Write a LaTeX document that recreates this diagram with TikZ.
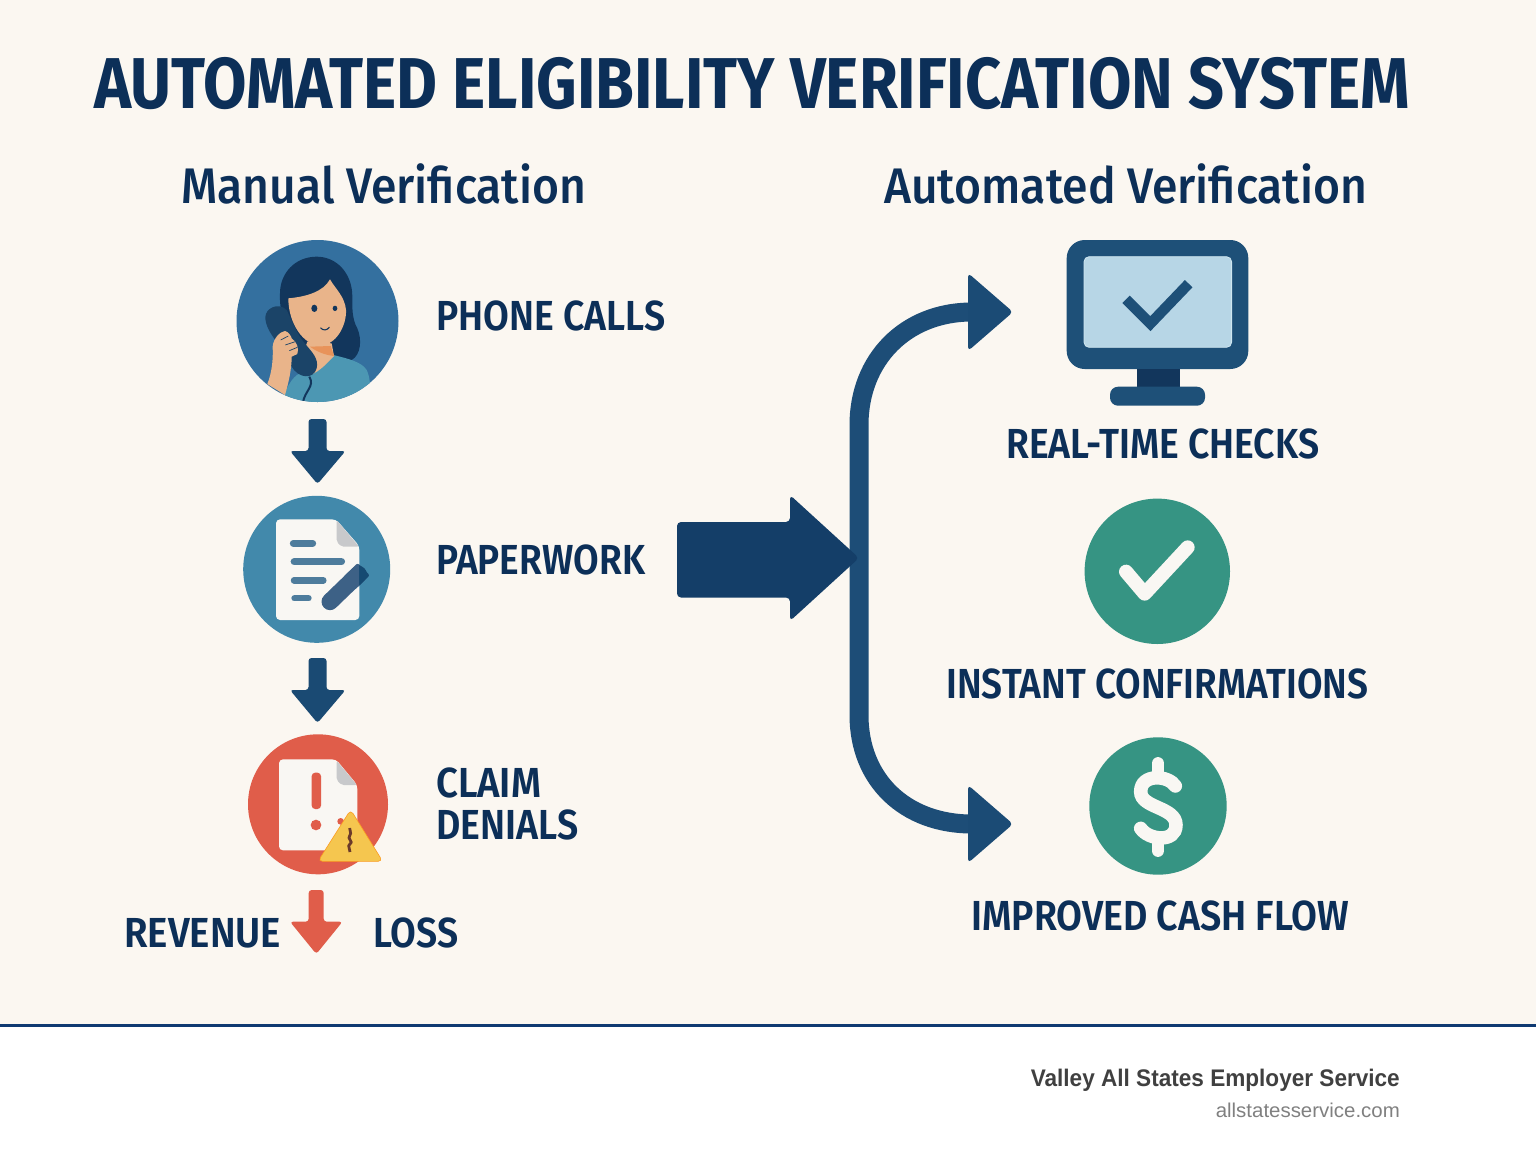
\documentclass[tikz,border=0pt]{standalone}
\usepackage{fontspec}
\usepackage{graphicx}
\setmainfont{Fira Sans}
\newfontfamily\fhead{Fira Sans Medium}
\newfontfamily\flab{Fira Sans SemiBold}
\newfontfamily\ftitle{Fira Sans Bold}
\newfontfamily\ffoot{Liberation Sans}
\definecolor{paperbg}{HTML}{FBF7F1}
\definecolor{navytext}{HTML}{0C2F58}
\definecolor{rulenavy}{HTML}{0F3A72}
\definecolor{blueA}{HTML}{34709F}
\definecolor{blueB}{HTML}{4289AB}
\definecolor{redA}{HTML}{E05D4A}
\definecolor{greenA}{HTML}{369483}
\definecolor{arrowdark}{HTML}{1A4A73}
\definecolor{arrowbig}{HTML}{143E68}
\definecolor{branchblue}{HTML}{1D4D77}
\definecolor{monitorblue}{HTML}{1E5078}
\definecolor{hairnavy}{HTML}{12365C}
\definecolor{handset}{HTML}{1B4468}
\definecolor{skin}{HTML}{E9B48A}
\definecolor{neckshade}{HTML}{E8935A}
\definecolor{tealshirt}{HTML}{4C97B3}
\definecolor{sheet}{HTML}{F9F7F3}
\definecolor{foldgray}{HTML}{C8C9CB}
\definecolor{doclines}{HTML}{4E7C9C}
\definecolor{penmid}{HTML}{3D6186}
\definecolor{pentip}{HTML}{154A72}
\definecolor{warn}{HTML}{F5C64F}
\definecolor{crack}{HTML}{6B3A2A}
\definecolor{screenblue}{HTML}{B7D6E6}
\definecolor{screenedge}{HTML}{CFE6F0}
\newcommand{\lbl}[6]{\node[anchor=base west,inner sep=0pt,text=navytext] (#1) at (#2,#3) {\resizebox{#4pt}{\height}{#5#6}};}
\newcommand{\labf}{\fontsize{42}{42}\flab}
\newcommand{\penshape}{
  \draw[line width=17pt,line cap=round] (300,350) -- (385,268);
  \fill[rounded corners=2pt] (383,234) -- (419,271) -- (374,315) -- (338,278) -- cycle;
}
\begin{document}
\begin{tikzpicture}[x=1pt,y=-1pt,
  disc/.style={circle,inner sep=0pt,draw=none},
  blockfill/.style={line join=round,rounded corners=3pt},
  docline/.style={line width=#1,line cap=round,draw=doclines},
  docline/.default=7pt]
\useasboundingbox (0,0) rectangle (1536,1154);
\fill[paperbg] (0,0) rectangle (1536,1025);
\fill[white] (0,1025) rectangle (1536,1154);
\coordinate (ruleL) at (0,1025.5);
\coordinate (ruleR) at (1536,1025.5);
\draw[rulenavy,line width=3pt] (ruleL) -- (ruleR);

% titles
\lbl{title}{94}{108}{1316}{\fontsize{72}{72}\ftitle}{AUTOMATED ELIGIBILITY VERIFICATION SYSTEM}
\lbl{manual}{181}{203}{405}{\fontsize{50}{50}\fhead}{Manual Verification}
\lbl{auto}{884}{203}{483}{\fontsize{50}{50}\fhead}{Automated Verification}
% labels
\lbl{lphone}{436}{330}{229}{\labf}{PHONE CALLS}
\lbl{lpaper}{436}{574}{209}{\labf}{PAPERWORK}
\lbl{lclaim}{436}{797}{105}{\labf}{CLAIM}
\lbl{ldenial}{436}{839}{142}{\labf}{DENIALS}
\lbl{lrev}{124}{947}{157}{\labf}{REVENUE}
\lbl{lloss}{373}{947}{85}{\labf}{LOSS}
\lbl{lreal}{1006}{458}{313}{\labf}{REAL-TIME CHECKS}
\lbl{linst}{946}{698}{422}{\labf}{INSTANT CONFIRMATIONS}
\lbl{lcash}{971}{930}{378}{\labf}{IMPROVED CASH FLOW}
% footer
\node[anchor=base east,inner sep=0pt,text=black!75] (fa) at (1400,1086) {\resizebox{369pt}{\height}{\fontsize{24}{24}\ffoot\bfseries Valley All States Employer Service}};
\node[anchor=base east,inner sep=0pt,text=black!50] (fb) at (1400,1117) {\resizebox{184pt}{\height}{\fontsize{20}{20}\ffoot allstatesservice.com}};

% ---- phone circle
\node[disc,fill=blueA,minimum size=162pt] (phone) at (317.5,321) {};
\begin{scope}
\clip (317.5,321) circle (81);
\begin{scope}[shift={(220,230)},scale=1/3]
 % hair back
 \fill[hairnavy] (290,80) .. controls (225,80) and (180,130) .. (180,190) .. controls (178,240) and (190,280) .. (215,320) -- (300,390) -- (395,390) .. controls (422,375) and (427,330) .. (412,295) .. controls (395,265) and (397,230) .. (397,200) .. controls (397,130) and (350,80) .. (290,80) -- cycle;
 % shirt
 \fill[tealshirt] (185,520) .. controls (195,480) and (215,440) .. (240,430) -- (290,420) -- (340,375) .. controls (380,385) and (425,395) .. (440,420) .. controls (450,440) and (452,470) .. (452,520) -- cycle;
 % neck
 \fill[skin] (262,335) -- (335,340) -- (342,378) .. controls (325,395) and (300,425) .. (270,435) -- (240,400) -- cycle;
 \fill[neckshade] (270,350) -- (332,348) -- (342,378) .. controls (315,375) and (290,365) .. (270,350) -- cycle;
 % face
 \fill[skin] (205,205) .. controls (260,200) and (310,185) .. (330,148) .. controls (345,175) and (375,200) .. (378,240) .. controls (380,285) and (350,345) .. (300,347) .. controls (250,345) and (205,280) .. (205,205) -- cycle;
 \fill[hairnavy] (283,235) ellipse (9 and 11);
 \fill[hairnavy] (345,235) ellipse (7 and 8);
 \draw[hairnavy,line width=1.1pt,line cap=round] (302,294) .. controls (310,302) and (320,302) .. (328,292);
 % cord
 \draw[hairnavy,line width=2pt] (268,440) .. controls (285,470) and (255,480) .. (248,520);
 % handset
 \fill[handset] (136,262) .. controls (136,235) and (175,215) .. (200,240) .. controls (215,270) and (230,310) .. (250,335) .. controls (275,365) and (297,385) .. (290,415) .. controls (280,450) and (235,445) .. (215,410) -- (170,335) .. controls (150,310) and (136,285) .. (136,262) -- cycle;
 % hand
 \fill[skin] (142,462) .. controls (155,430) and (160,390) .. (158,350) .. controls (160,325) and (180,305) .. (195,303) .. controls (205,305) and (215,320) .. (215,325) .. controls (230,335) and (238,355) .. (232,372) -- (215,380) .. controls (215,420) and (205,460) .. (195,495) -- cycle;
 \draw[handset,line width=.7pt] (182,330) -- (205,318);
 \draw[handset,line width=.7pt] (196,345) -- (226,335);
 \draw[handset,line width=.7pt] (208,362) -- (232,352);
\end{scope}
\end{scope}

% ---- paperwork circle
\node[disc,fill=blueB,minimum size=147pt] (paper) at (316.7,569.3) {};
\begin{scope}[shift={(230,485)},scale=1/3]
 \fill[sheet,rounded corners=4pt] (138,103) -- (318,103) -- (388,183) -- (388,405) -- (138,405) -- cycle;
 \fill[foldgray,rounded corners=2pt] (320,105) -- (387,185) -- (335,185) -- (320,170) -- cycle;
 \draw[docline=7pt] (190,175) -- (248,175);
 \draw[docline=7.5pt] (193,230) -- (334,230);
 \draw[docline=6.5pt] (192,286) -- (280,286);
 \draw[docline=6pt] (193,340) -- (236,340);
 \begin{scope}[color=penmid,fill=penmid]
  \penshape
 \end{scope}
 \begin{scope}[color=pentip,fill=pentip]
  \clip (388,200) rectangle (440,320);
  \penshape
 \end{scope}
\end{scope}

% ---- claim denial circle
\node[disc,fill=redA,minimum size=140pt] (claim) at (318,804.3) {};
\begin{scope}[shift={(230,725)},scale=1/3]
 \fill[sheet,rounded corners=4pt] (147,103) -- (318,103) -- (382,180) -- (382,376) -- (147,376) -- cycle;
 \fill[foldgray,rounded corners=2pt] (320,107) -- (381,180) -- (335,180) -- (320,165) -- cycle;
 \fill[redA,rounded corners=3.5pt] (245,143) rectangle (273,252);
 \fill[redA] (258,300) circle (16);
 \fill[redA] (332,289) circle (10);
 \fill[warn,draw=orange!60!warn,line width=.6pt,rounded corners=4.5pt] (362,254) -- (458,409) -- (264,409) -- cycle;
 \draw[crack,line width=2.8pt,line join=round] (359,309) -- (362,325) -- (357,338) -- (364,352) -- (356,362) -- (360,381);
\end{scope}

% ---- block arrows down
\fill[arrowdark,blockfill] (308.5,419) -- (326.5,419) -- (326.5,451) -- (345.5,451) -- (317.5,484) -- (290,451) -- (308.5,451) -- cycle;
\fill[arrowdark,blockfill] (308.5,658) -- (326.5,658) -- (326.5,690) -- (345.5,690) -- (317.5,723) -- (290,690) -- (308.5,690) -- cycle;
\fill[redA,blockfill] (308.7,890) -- (323.7,890) -- (323.7,921.7) -- (342.5,921.7) -- (316.3,954) -- (290,921.7) -- (308.7,921.7) -- cycle;

% ---- right side branch
\coordinate (brtop) at (972,312);
\coordinate (brbot) at (972,824);
\coordinate (brup) at (859,425);
\coordinate (brdn) at (859,715);
\draw[branchblue,line width=19pt] (brtop) .. controls (905,312) and (859,360) .. (brup) -- (brdn) .. controls (859,780) and (905,824) .. (brbot);
\fill[arrowdark!60!branchblue,rounded corners=4pt] (968,273) -- (1013,312) -- (968,351) -- cycle;
\fill[arrowdark!60!branchblue,rounded corners=4pt] (968,785) -- (1013,824) -- (968,863) -- cycle;
% big arrow
\fill[arrowbig,rounded corners=4pt] (677,522) -- (790,522) -- (790,495) -- (859,558) -- (790,621) -- (790,597.5) -- (677,597.5) -- cycle;

% ---- monitor
\node[rectangle,rounded corners=18pt,fill=monitorblue,minimum width=181.6pt,minimum height=129pt,inner sep=0pt] (monitor) at (1157.5,304.5) {};
\node[rectangle,rounded corners=5pt,fill=screenblue,draw=screenedge,line width=.8pt,minimum width=147.6pt,minimum height=90.6pt,inner sep=0pt] (screen) at (1157.8,302) {};
\fill[hairnavy] (1137.3,369) rectangle (1180,388);
\fill[monitorblue,rounded corners=8pt] (1110,386.7) rectangle (1205,405.7);
\begin{scope}[shift={(1040,230)},scale=1/3]
 \draw[monitorblue,line width=10.5pt,line join=miter] (258,208) -- (331,281) -- (446,161);
\end{scope}

% ---- green check
\node[disc,fill=greenA,minimum size=145.4pt] (check) at (1157.3,571.3) {};
\begin{scope}[shift={(1020,490)},scale=1/3]
 \draw[sheet,line width=14pt,line cap=round,line join=round] (318,245) -- (374,311) -- (503,172);
\end{scope}

% ---- green dollar
\node[disc,fill=greenA,minimum size=137.4pt] (cash) at (1158,806) {};
\begin{scope}[shift={(1020,490)},scale=1/3]
 \draw[sheet,line width=13.5pt,line cap=round] (466,888) .. controls (445,855) and (362,850) .. (362,905) .. controls (362,955) and (468,950) .. (468,1005) .. controls (468,1060) and (385,1050) .. (362,1015);
 \draw[sheet,line width=12.5pt,line cap=round] (414,820) -- (414,850);
 \draw[sheet,line width=12.5pt,line cap=round] (414,1060) -- (414,1082);
\end{scope}
\end{tikzpicture}
\end{document}
